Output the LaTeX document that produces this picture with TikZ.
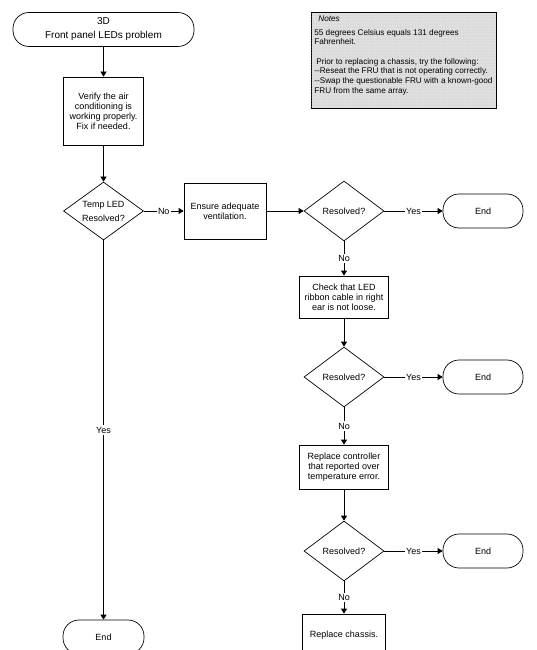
\documentclass[tikz,border=0pt]{standalone}
\usepackage{fontspec}
\setmainfont{Liberation Sans}
\usetikzlibrary{shapes.geometric,arrows.meta,patterns}

\definecolor{notefill}{gray}{0.86}

\tikzset{
  term/.style={draw, rectangle, rounded corners=16pt, minimum width=80pt, minimum height=34pt, inner sep=0pt, align=center},
  proc/.style={draw, rectangle, inner sep=0pt, align=center},
  decide/.style={draw, diamond, shape aspect=1.4, inner sep=0pt, minimum width=80pt, minimum height=60pt, align=center},
  lbl/.style={fill=white, inner sep=1.5pt},
}

\begin{document}
\begin{tikzpicture}[>={Triangle[length=5pt,width=6pt]},x=1pt,y=-1pt,line width=0.7pt,font=\fontsize{9}{10}\selectfont]
\useasboundingbox (0,0) rectangle (536,650);
\clip (0,0) rectangle (536,650);
% notes
\filldraw[fill=notefill] (311,12) rectangle (496,108);
\fill[pattern=dots, pattern color=white] (311.5,12.5) rectangle (495.5,107.5);
\node[anchor=north west, align=left, inner sep=0pt, font=\fontsize{8.2}{9.4}\selectfont] (notes) at (314,16)
  {\hspace{4pt}\textit{Notes}\\[4pt]
   55 degrees Celsius equals 131 degrees\\
   Fahrenheit.\\[10pt]
   \hspace{2pt}Prior to replacing a chassis, try the following:\\
   -{}-Reseat the FRU that is not operating correctly.\\[1pt]
   -{}-Swap the questionable FRU with a known-good\\
   FRU from the same array.};
% left column
\node[term, minimum width=181pt, font=\fontsize{10}{14}\selectfont] (start) at (103.5,29.5) {3D\\Front panel LEDs problem};
\node[proc, minimum width=80pt, minimum height=68pt] (verify) at (103.5,111) {Verify the air\\conditioning is\\working properly.\\Fix if needed.};
\node[decide, minimum height=58pt] (temp) at (103.5,211) {Temp LED\\[4pt]Resolved?};
\node[term, minimum width=81pt] (endL) at (103.5,637) {End};
\node[proc, minimum width=82pt, minimum height=56pt] (vent) at (225,211) {Ensure adequate\\ventilation.};
% right column
\node[decide] (res1) at (344,211) {Resolved?};
\node[term] (end1) at (483,211) {End};
\node[proc, minimum width=89pt, minimum height=42pt] (check) at (344,297) {Check that LED\\ribbon cable in right\\ear is not loose.};
\node[decide] (res2) at (344,377) {Resolved?};
\node[term] (end2) at (483,377) {End};
\node[proc, minimum width=89pt, minimum height=44pt] (ctrl) at (344,467) {Replace controller\\that reported over\\temperature error.};
\node[decide] (res3) at (344,551) {Resolved?};
\node[term] (end3) at (483,551) {End};
\node[proc, minimum width=83pt, minimum height=42pt] (chassis) at (344,635) {Replace chassis.};
% connectors
\draw[->] (start) -- (verify);
\draw[->] (verify) -- (temp);
\draw[->] (temp) -- node[lbl] {No} (vent);
\draw[->] (temp) -- node[lbl] {Yes} (endL);
\draw[->] (vent) -- (res1);
\draw[->] (res1) -- node[lbl] {Yes} (end1);
\draw[->] (res1) -- node[lbl] {No} (check);
\draw[->] (check) -- (res2);
\draw[->] (res2) -- node[lbl] {Yes} (end2);
\draw[->] (res2) -- node[lbl] {No} (ctrl);
\draw[->] (ctrl) -- (res3);
\draw[->] (res3) -- node[lbl] {Yes} (end3);
\draw[->] (res3) -- node[lbl] {No} (chassis);
\end{tikzpicture}
\end{document}
